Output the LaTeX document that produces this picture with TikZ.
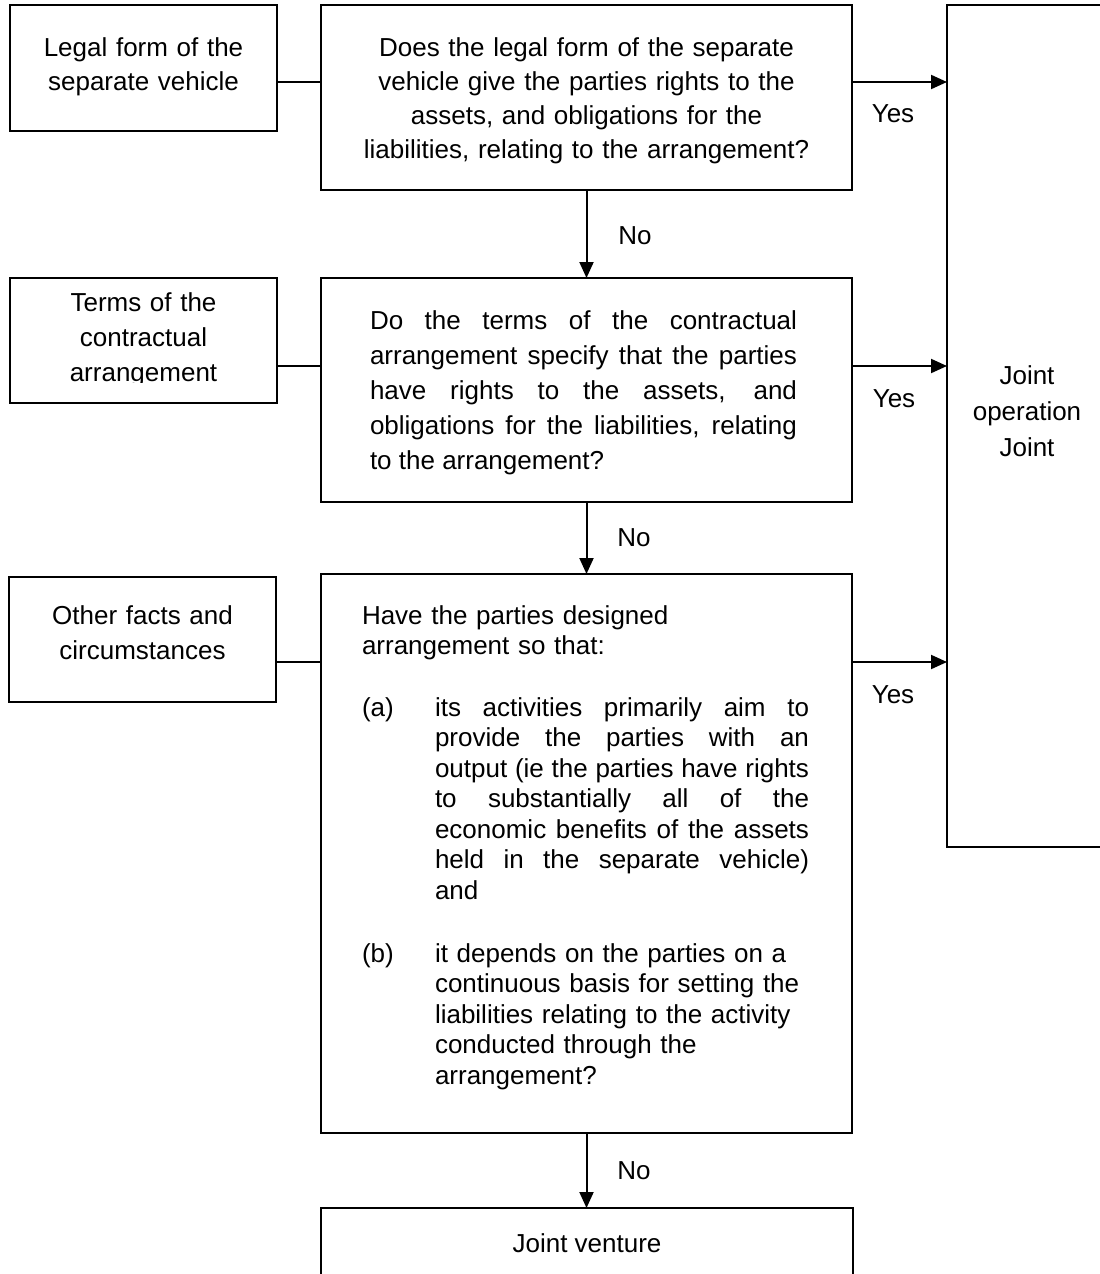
\documentclass[tikz,border=0pt]{standalone}
\usepackage{fontspec}
\setmainfont{Liberation Sans}
\usetikzlibrary{arrows.meta}
\tolerance=9999
\hbadness=10000
\hyphenpenalty=10000
\begin{document}
\begin{tikzpicture}[x=1pt,y=-1pt,
  box/.style={draw, line width=2pt, inner sep=0pt, outer sep=0pt, anchor=north west},
  txt/.style={inner sep=0pt, outer sep=0pt, font=\fontsize{26}{35}\selectfont},
  qtxt/.style={inner sep=0pt, outer sep=0pt, font=\fontsize{26}{30.5}\selectfont},
  lbl/.style={inner sep=0pt, outer sep=0pt, anchor=base, font=\fontsize{26}{30}\selectfont},
  conn/.style={line width=2pt},
  arr/.style={line width=2pt, -{Triangle[length=16pt,width=14pt]}}
]
\useasboundingbox (0,0) rectangle (1100,1274);
\fill[white] (0,0) rectangle (1100,1274);

% boxes
\node[box, minimum width=267pt, minimum height=126pt] (l1) at (10,5) {};
\node[box, minimum width=531pt, minimum height=185pt] (q1) at (321,5) {};
\node[box, minimum width=163pt, minimum height=842pt] (jo) at (947,5) {};
\node[box, minimum width=267pt, minimum height=125pt] (l2) at (10,278) {};
\node[box, minimum width=531pt, minimum height=224pt] (q2) at (321,278) {};
\node[box, minimum width=267pt, minimum height=125pt] (l3) at (9,577) {};
\node[box, minimum width=531pt, minimum height=559pt] (q3) at (321,574) {};
\node[box, minimum width=532pt, minimum height=100pt] (jv) at (321,1208) {};

% texts
\node[txt, anchor=base, text width=260pt, align=center] (l1t) at (143.5,56) {Legal form of the\\separate vehicle};
\node[txt, anchor=base, text width=520pt, align=center, font=\fontsize{26}{34}\selectfont] (q1t) at (586.5,56)
  {Does the legal form of the separate\\vehicle give the parties rights to the\\assets, and obligations for the\\liabilities, relating to the arrangement?};
\begin{scope}
  \clip (0,0) rectangle (1100,382.5);
  \node[txt, anchor=base, text width=260pt, align=center] (l2t) at (143.5,311) {Terms of the\\contractual\\arrangement};
\end{scope}
\node[txt, anchor=base west, text width=427pt, align=justify] (q2t) at (370,329)
  {Do the terms of the contractual\linebreak arrangement specify that the parties\linebreak have rights to the assets, and\linebreak obligations for the liabilities, relating\linebreak to the arrangement?};
\node[txt, anchor=base, text width=260pt, align=center] (l3t) at (142.5,624) {Other facts and\\circumstances};
\node[qtxt, anchor=base west, text width=450pt, align=left] (q3h) at (362,624) {Have the parties designed\\arrangement so that:};
\node[qtxt, anchor=base west] (q3a) at (362,716) {(a)};
\node[qtxt, anchor=base west, text width=374pt, align=justify] (q3at) at (435,716)
  {its activities primarily aim to\linebreak provide the parties with an\linebreak output (ie the parties have rights\linebreak to substantially all of the\linebreak economic benefits of the assets\linebreak held in the separate vehicle)\linebreak and};
\node[qtxt, anchor=base west] (q3b) at (362,962) {(b)};
\node[qtxt, anchor=base west, text width=374pt, align=left] (q3bt) at (435,962)
  {it depends on the parties on a\\continuous basis for setting the\\liabilities relating to the activity\\conducted through the\\arrangement?};
\node[txt, anchor=base, text width=150pt, align=center, font=\fontsize{26}{36}\selectfont] (jot) at (1027,384) {Joint\\operation\\Joint};
\node[txt, anchor=base] (jvt) at (587,1252) {Joint venture};

% connector levels
\coordinate (r1) at (0,82);
\coordinate (r2) at (0,366);
\coordinate (r3) at (0,662);

% connectors
\draw[conn] (l1.east |- r1) -- (q1.west |- r1);
\draw[conn] (l2.east |- r2) -- (q2.west |- r2);
\draw[conn] (l3.east |- r3) -- (q3.west |- r3);
\draw[arr] (q1.east |- r1) -- (jo.west |- r1);
\draw[arr] (q2.east |- r2) -- (jo.west |- r2);
\draw[arr] (q3.east |- r3) -- (jo.west |- r3);
\draw[arr] (q1.south) -- (q2.north);
\draw[arr] (q2.south) -- (q3.north);
\draw[arr] (q3.south) -- (q3.south |- jv.north);

% labels
\node[lbl] (y1) at (893,122) {Yes};
\node[lbl] (y2) at (894,407) {Yes};
\node[lbl] (y3) at (893,703) {Yes};
\node[lbl] (n1) at (635,244) {No};
\node[lbl] (n2) at (634,546) {No};
\node[lbl] (n3) at (634,1179) {No};
\end{tikzpicture}
\end{document}
